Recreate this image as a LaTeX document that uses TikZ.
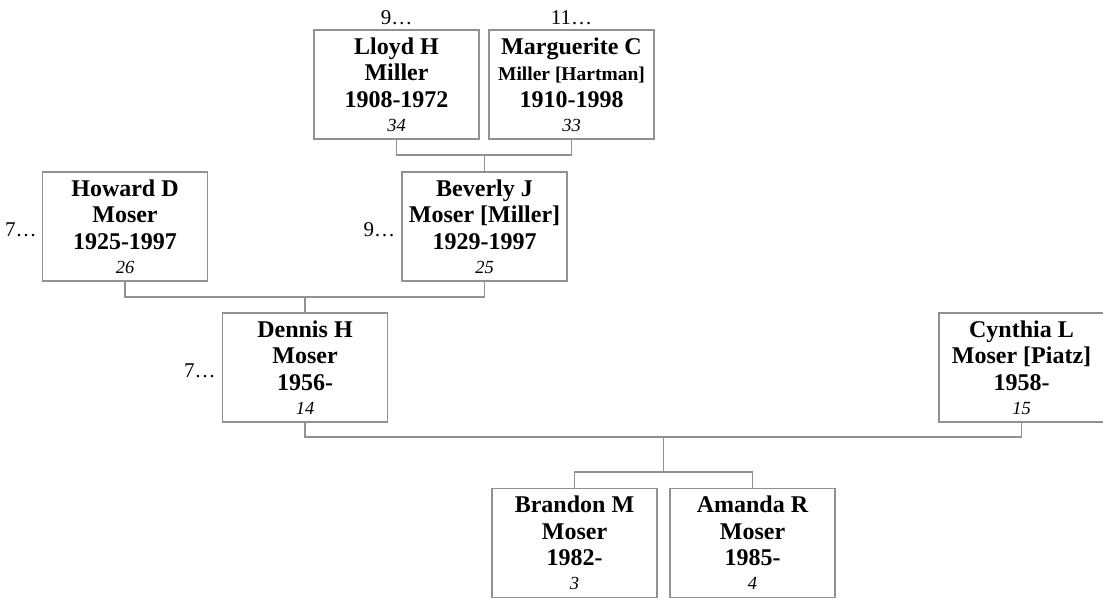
\documentclass[tikz,border=0pt]{standalone}
\usepackage{fontspec}
\setmainfont{Liberation Serif}
\usetikzlibrary{calc}
\definecolor{boxgray}{RGB}{145,145,145}
\tikzset{
  person/.style={draw=boxgray, line width=1.3pt, minimum width=165pt, minimum height=109pt,
    inner sep=0pt, align=center, text=black,
    font=\fontsize{24}{26.6}\selectfont\bfseries},
  conn/.style={draw=boxgray, line width=1.3pt},
  more/.style={font=\fontsize{21}{22}\selectfont, inner sep=0pt}
}
\newcommand{\idx}[1]{\\[-2.5pt]{\mdseries\itshape\fontsize{18.5}{18.5}\selectfont #1}}
\begin{document}
\begin{tikzpicture}[x=1pt,y=-1pt]
\useasboundingbox (0,0) rectangle (1103,602);
% persons
\node[person] (lloyd) at (396.5,84.5) {Lloyd H\\Miller\\1908-1972\idx{34}};
\node[person] (marg) at (571.5,84.5) {Marguerite C\\{\fontsize{19.5}{26.6}\selectfont Miller [Hartman]}\\1910-1998\idx{33}};
\node[person] (howard) at (125,226.5) {Howard D\\Moser\\1925-1997\idx{26}};
\node[person] (beverly) at (484.5,226.5) {Beverly J\\Moser [Miller]\\1929-1997\idx{25}};
\node[person] (dennis) at (305,367.5) {Dennis H\\Moser\\1956-\idx{14}};
\node[person] (cynthia) at (1021.5,367.5) {Cynthia L\\Moser [Piatz]\\1958-\idx{15}};
\node[person] (brandon) at (574.5,543) {Brandon M\\Moser\\1982-\idx{3}};
\node[person] (amanda) at (752.5,543) {Amanda R\\Moser\\1985-\idx{4}};
% more-ancestor marks
\node[more, anchor=base] (lloydM) at ([yshift=5pt]lloyd.north) {9…};
\node[more, anchor=base] (margM) at ([yshift=5pt]marg.north) {11…};
\node[more, anchor=base east] (howardM) at ([xshift=-5pt,yshift=-9.5pt]howard.west) {7…};
\node[more, anchor=base east] (beverlyM) at ([xshift=-6pt,yshift=-9.5pt]beverly.west) {9…};
\node[more, anchor=base east] (dennisM) at ([xshift=-6pt,yshift=-9.5pt]dennis.west) {7…};
% connectors
\coordinate (m1) at (484.5,155);
\draw[conn] (lloyd.south) |- (m1) -| (marg.south);
\draw[conn] (beverly.north) -- (beverly.north |- m1);
\coordinate (m2) at (305,297);
\draw[conn] (howard.south) |- (m2) -| (beverly.south);
\draw[conn] (dennis.north) -- (dennis.north |- m2);
\coordinate (m3) at (663.5,437);
\coordinate (m4) at (663.5,472);
\draw[conn] (dennis.south) |- (m3) -| (cynthia.south);
\draw[conn] (m3) -- (m4);
\draw[conn] (brandon.north) |- (m4) -| (amanda.north);
\end{tikzpicture}
\end{document}
